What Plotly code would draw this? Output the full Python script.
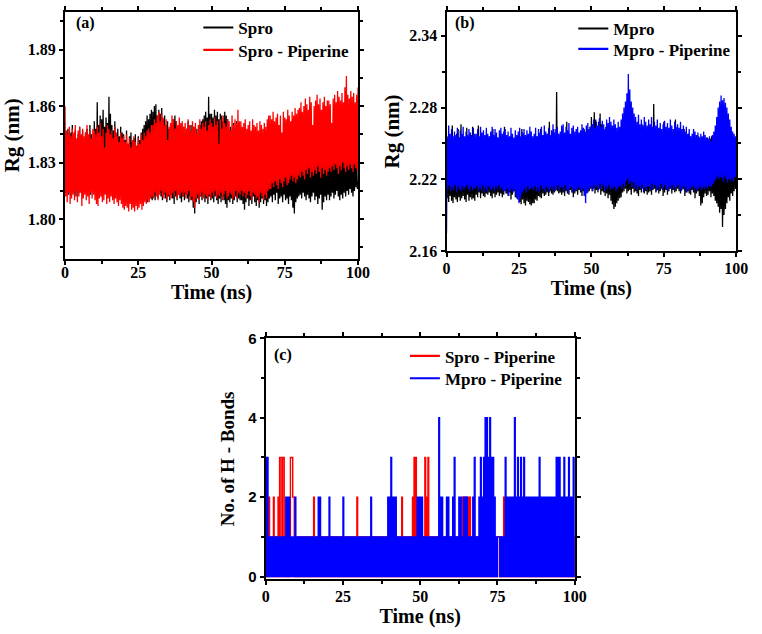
import plotly.graph_objects as go

# ---------------- data ----------------
# Panel (a): Rg, in pm above 1.800 nm, one row per 10 ns (0.25 ns step)
rg_time_step_ns = 0.25
SPRO_BASE_NM = 1.800
spro_rg_pm_rows = [
    [45,15,42,17,48,13,44,16,46,18,50,14,43,15,47,12,41,16,45,14,49,17,44,15,47,13,42,18,46,14,48,16,44,15,50,13,45,17,43,14],
    [52,14,48,12,62,16,50,13,55,15,53,12,58,18,49,14,54,13,51,16,65,12,56,15,50,14,47,11,52,16,45,13,48,12,44,15,49,14,46,12],
    [45,13,42,11,47,15,40,12,44,14,46,12,41,11,43,14,45,13,39,10,44,12,42,15,46,11,48,13,50,10,52,12,55,9,53,12,56,11,58,10],
    [57,12,60,10,61,13,55,11,58,14,56,12,59,10,53,13,55,11,50,9,52,12,48,10,47,13,50,11,53,8,55,12,52,10,49,13,47,11,50,9],
    [46,12,49,10,44,13,48,11,52,9,47,12,50,10,45,6,49,3,46,9,48,11,44,8,50,12,52,10,53,13,55,9,57,11,54,8,65,12,56,10],
    [56,11,54,9,58,12,55,10,57,8,53,11,56,9,55,12,52,10,57,8,55,6,53,10,47,9,49,11,46,8,51,10,48,12,52,9,47,11,50,10],
    [46,10,44,8,48,5,42,9,45,11,47,7,43,10,46,8,41,12,45,9,44,7,40,10,46,6,43,9,45,11,42,8,40,10,44,7,38,9,35,11],
    [34,12,32,9,36,13,33,10,30,14,35,8,33,11,37,12,31,9,34,13,36,10,32,11,38,8,30,12,33,10,35,6,31,3,34,9,36,11,33,12],
    [33,13,36,11,32,14,35,12,37,10,34,13,38,11,33,9,35,12,31,14,36,10,34,12,32,8,35,11,33,13,30,5,34,9,36,12,33,10,35,13],
    [35,10,33,12,37,14,34,11,36,13,38,15,35,12,33,10,36,13,34,11,37,14,35,12,33,15,36,13,34,16,32,14,35,12,33,15,36,17,34,16],
    [20],
]
spro_pip_rg_pm_rows = [
    [60,12,47,9,45,14,49,8,44,11,48,13,46,10,50,15,43,9,47,12,49,14,45,7,48,11,44,13,46,10,50,12,45,8,47,14,43,11,48,13],
    [47,10,45,8,49,7,46,11,51,12,44,9,48,10,38,13,46,8,50,11,48,9,45,12,47,10,43,8,49,11,46,9,44,7,41,10,46,8,43,6],
    [44,5,41,7,45,6,40,4,43,8,38,5,42,6,44,4,41,7,39,5,43,6,40,8,45,5,42,7,46,9,44,8,47,10,48,9,46,11,50,12],
    [50,11,53,14,51,12,55,10,57,13,52,15,56,12,54,11,50,14,53,10,42,13,49,12,51,11,55,14,53,12,48,15,52,11,50,13,54,12,51,14],
    [52,12,49,14,51,11,48,13,53,15,50,10,47,12,52,9,49,6,51,11,46,13,50,10,53,12,48,14,51,11,49,13,52,12,47,10,50,13,53,11],
    [51,14,49,12,54,15,50,11,52,13,40,12,53,14,48,10,55,13,51,15,49,11,53,12,52,14,47,13,55,10,50,12,53,15,51,11,58,14,52,13],
    [52,15,49,12,51,14,53,11,48,13,50,15,52,12,47,10,53,14,50,13,49,11,51,12,47,9,52,14,50,12,48,10,51,13,49,11,53,15,55,16],
    [55,16,53,19,57,17,52,20,54,18,56,16,50,21,55,19,46,17,57,20,54,22,53,18,58,19,55,21,52,23,57,20,55,22,59,19,56,21,58,23],
    [59,22,62,25,57,23,60,21,64,26,61,24,58,27,65,22,62,25,50,23,60,26,63,24,66,28,61,25,64,22,58,27,62,24,65,26,60,23,63,25],
    [63,27,61,25,51,28,64,26,66,29,62,27,68,24,65,28,63,26,67,30,62,27,70,25,76,28,66,26,64,29,68,27,65,25,67,29,62,27,66,26],
    [70],
]
# Panel (b): Rg in pm above 2.200 nm
MPRO_BASE_NM = 2.200
mpro_rg_pm_rows = [
    [52,4,56,1,50,6,54,2,65,0,53,5,51,3,58,1,62,5,55,2,66,4,52,6,54,3,51,1,63,7,55,2,53,5,57,3,64,4,52,2],
    [53,7,50,5,65,9,54,4,51,8,56,6,52,5,55,8,50,7,54,9,56,6,51,4,62,8,53,5,50,7,55,9,52,6,54,8,51,5,56,7],
    [64,10,52,8,50,6,55,9,54,3,51,7,53,10,50,5,52,4,56,8,50,1,54,-1,62,3,52,0,53,-2,55,2,56,1,51,-1,51,-2,54,0],
    [54,0,50,3,56,2,52,6,55,5,62,4,52,8,55,6,50,7,53,9,58,6,68,10,54,8,52,7,62,9,55,11,93,10,58,8,54,9,52,7],
    [53,9,55,6,52,10,68,8,56,7,52,11,54,9,56,5,58,8,55,10,62,7,54,11,58,9,60,6,55,10,62,8,58,11,56,9,60,10,64,12],
    [72,10,66,12,76,8,70,11,64,9,68,12,75,7,66,10,62,9,58,6,64,8,60,4,56,7,58,2,62,-1,57,-5,55,-3,52,0,58,2,54,4],
    [56,5,52,9,62,10,58,12,45,8,58,10,55,11,60,7,56,12,70,9,58,10,55,8,56,6,60,11,58,9,66,12,56,8,62,10,55,7,58,9],
    [58,10,62,7,60,11,83,12,58,9,55,11,60,8,62,10,58,12,56,6,68,9,60,11,55,7,58,10,56,12,54,8,58,11,62,9,70,10,58,12],
    [55,10,58,8,56,11,52,12,62,6,55,9,54,10,58,8,56,7,52,11,55,9,58,4,52,8,54,10,56,6,52,-2,55,0,50,5,54,8,52,6],
    [55,7,52,10,54,5,56,8,50,6,54,2,52,0,48,-3,50,-8,46,-5,45,-20,40,-10,50,-5,46,0,44,5,48,2,52,8,50,6,48,10,52,12],
    [15],
]
mpro_pip_rg_pm_rows = [
    [-25,55,12,65,15,58,10,62,13,56,11,60,15,57,9,63,14,55,12,61,10,58,14,64,11,56,13,60,15,57,12,62,10,59,14,56,11,63,13,58],
    [12,58,14,62,10,56,13,64,11,59,15,61,9,57,13,63,10,58,14,56,12,60,11,64,13,57,10,62,14,59,12,55,15,61,11,63,13,58,10,60],
    [11,62,8,57,12,60,6,56,10,63,12,58,9,55,11,61,6,57,3,60,0,63,4,56,8,59,10,62,12,57,9,61,14,58,11,64,12,60,13,56],
    [11,58,14,63,10,56,13,62,9,59,15,64,11,57,12,65,10,60,14,58,12,63,9,57,13,61,11,66,14,59,10,62,12,64,15,58,11,60,13,65],
    [13,66,10,59,15,64,11,61,8,67,12,58,14,63,9,65,12,60,10,62,11,64,13,59,12,61,10,66,12,63,6,60,0,65,8,67,11,62,13,64],
    [13,66,10,70,15,63,12,68,14,65,11,71,16,64,12,69,15,66,10,62,14,70,12,67,15,72,11,68,13,65,12,70,14,66,10,63,12,68,14,64],
    [14,70,12,75,16,80,14,85,18,92,20,108,16,95,18,85,13,80,17,75,12,72,15,68,11,74,14,66,12,70,15,65,9,72,13,68,11,65,14,70],
    [14,66,11,72,16,64,12,68,15,65,10,70,14,63,12,67,16,62,11,66,13,69,15,64,12,67,10,63,14,70,12,65,15,62,11,68,13,64,14,66],
    [15,63,12,68,10,62,14,65,11,60,13,64,9,58,12,62,10,56,13,58,14,62,11,60,13,57,10,59,12,55,14,58,11,56,13,60,12,57,14,55],
    [12,54,15,56,13,52,14,57,16,60,18,65,20,72,22,80,20,85,22,90,21,86,18,88,22,84,20,80,17,75,20,70,19,64,21,60,18,58,22,56],
    [20],
]

# Panel (c): number of H-bonds, one digit per 0.25 ns, one string per 10 ns
hb_time_step_ns = 0.25
spro_pip_hb_rows = [
    "1010201010201010203310331010101033322010",
    "1010101010101010101010201010101010101010",
    "1010101010101010101010101010101010101020",
    "1010101010101010101010101010101010101010",
    "1010101010101010201010101010102030301010",
    "1010103020301010101010101010101010101010",
    "1010101010101020202020202010101010101010",
    "1010101010101010101011101010201010101010",
    "1010101010101010101010101010101010101010",
    "1010101010101010101010101010101010101010",
    "1",
]
mpro_pip_hb_rows = [
    "3030101010101010101010101020202010101020",
    "1010101010101010101010101010202010101010",
    "1020101010101010101020101010101010101010",
    "1010101010101010201010101010101010101020",
    "2030202020101010101010101010101010102020",
    "2020101010101010101010104020201010202010",
    "1020301010202010202020101010203010102030",
    "2030404030403030201011101010103020202020",
    "2040203020302030202020202020202020302020",
    "2020202020202020303030202030202030202030",
    "3",
]

tick_time = [0, 25, 50, 75, 100]

# ---------------- build series ----------------
def flat(rows):
    out = []
    for r in rows:
        out.extend(r)
    return out

spro_rg = [SPRO_BASE_NM + v / 1000 for v in flat(spro_rg_pm_rows)]
spro_pip_rg = [SPRO_BASE_NM + v / 1000 for v in flat(spro_pip_rg_pm_rows)]
mpro_rg = [MPRO_BASE_NM + v / 1000 for v in flat(mpro_rg_pm_rows)]
mpro_pip_rg = [MPRO_BASE_NM + v / 1000 for v in flat(mpro_pip_rg_pm_rows)]

def times(n, step):
    return [i * step for i in range(n)]

spro_pip_hb = [int(c) for c in "".join(spro_pip_hb_rows)]
mpro_pip_hb = [int(c) for c in "".join(mpro_pip_hb_rows)]

# ---------------- figure ----------------
W, H = 762, 634
SERIF = "Liberation Serif"
SANS = "Liberation Sans"
BLACK, RED, BLUE = "#000000", "#ff0000", "#0000ff"

def fx(p):
    return p / W

def fy(p):
    return 1 - p / H

fig = go.Figure()

def data_trace(y, step, color, width, xa, ya, shape="linear"):
    fig.add_trace(go.Scatter(x=times(len(y), step), y=y, mode="lines", showlegend=False,
                             line=dict(color=color, width=width, shape=shape),
                             xaxis=xa, yaxis=ya, hoverinfo="skip"))

def legend_entry(name, color, leg, xa, ya):
    fig.add_trace(go.Scatter(x=[None], y=[None], mode="lines", name=name,
                             line=dict(color=color, width=2.2), legend=leg,
                             xaxis=xa, yaxis=ya))

data_trace(spro_rg, rg_time_step_ns, BLACK, 1.3, "x", "y")
data_trace(spro_pip_rg, rg_time_step_ns, RED, 1.3, "x", "y")
data_trace(mpro_rg, rg_time_step_ns, BLACK, 1.3, "x2", "y2")
data_trace(mpro_pip_rg, rg_time_step_ns, BLUE, 1.3, "x2", "y2")
data_trace(spro_pip_hb, hb_time_step_ns, RED, 1.4, "x3", "y3", "hv")
data_trace(mpro_pip_hb, hb_time_step_ns, BLUE, 1.4, "x3", "y3", "hv")

legend_entry("Spro", BLACK, "legend", "x", "y")
legend_entry("Spro - Piperine", RED, "legend4", "x", "y")
legend_entry("Mpro", BLACK, "legend2", "x2", "y2")
legend_entry("Mpro - Piperine", BLUE, "legend5", "x2", "y2")
legend_entry("Spro - Piperine", RED, "legend3", "x3", "y3")
legend_entry("Mpro - Piperine", BLUE, "legend6", "x3", "y3")

tick_font = dict(family=SERIF, size=16, color="black", weight="bold")
title_font = dict(family=SERIF, size=20, color="black", weight="bold")

def xax(dom, anchor, lab_shift):
    return dict(domain=dom, anchor=anchor, range=[0, 100], tickmode="array",
                tickvals=tick_time, ticktext=[str(t) for t in tick_time],
                ticks="outside", ticklen=4, tickwidth=1.5, tickcolor="black",
                ticklabelstandoff=lab_shift,
                minor=dict(ticks="outside", ticklen=3, tickwidth=1.5, dtick=12.5, tick0=0,
                           tickcolor="black"),
                showline=True, linewidth=2, linecolor="black", mirror="ticks",
                showgrid=False, zeroline=False, tickfont=tick_font,
                title=dict(text="Time (ns)", font=title_font, standoff=0))

def yax(dom, anchor, rng, t0, dt, fmt, tfont, title, tsize, stand):
    return dict(domain=dom, anchor=anchor, range=rng, tick0=t0, dtick=dt, tickformat=fmt,
                ticks="outside", ticklen=4, tickwidth=1.5, tickcolor="black",
                minor=dict(ticks="outside", ticklen=3, tickwidth=1.5, dtick=dt / 2, tick0=t0,
                           tickcolor="black"),
                showline=True, linewidth=2, linecolor="black", mirror="ticks",
                showgrid=False, zeroline=False, tickfont=tfont,
                title=dict(text=title, font=dict(family=SERIF, size=tsize, color="black",
                                                 weight="bold"), standoff=stand))

leg_font = dict(family=SERIF, size=17, color="black", weight="bold")

def legend(x, y):
    return dict(x=x, y=y, xanchor="left", yanchor="top", font=leg_font,
                bgcolor="rgba(0,0,0,0)", tracegroupgap=0)

label_font = dict(family=SERIF, size=16, color="black", weight="bold")

fig.update_layout(
    width=W, height=H, paper_bgcolor="white", plot_bgcolor="white",
    margin=dict(l=0, r=0, t=0, b=0),
    showlegend=True,
    xaxis=xax([fx(62.3), fx(361.7)], "y", -6),
    yaxis=yax([fy(257), fy(3)], "x", [1.779, 1.910], 1.80, 0.03, ".2f", tick_font,
              "Rg (nm)", 21, 4),
    xaxis2=xax([fx(452), fx(748)], "y2", -2),
    yaxis2=yax([fy(249), fy(3)], "x2", [2.16, 2.36], 2.16, 0.06, ".2f", tick_font,
               "Rg (nm)", 21, 4),
    xaxis3=xax([fx(267.3), fx(583)], "y3", -3),
    yaxis3=yax([fy(587), fy(339)], "x3", [-0.07, 6], 0, 2, "d",
               dict(family=SANS, size=15, color="black", weight="bold"),
               "No. of H - Bonds", 19, 9),
    legend=legend(fx(198.5), fy(1)),
    legend4=legend(fx(198.5), fy(24)),
    legend2=legend(fx(581.5), fy(2)),
    legend5=legend(fx(581.5), fy(23)),
    legend3=legend(fx(409.5), fy(339)),
    legend6=legend(fx(409.5), fy(362)),
    annotations=[
        dict(text="(a)", x=fx(83), y=fy(14), xref="paper", yref="paper", showarrow=False,
             xanchor="center", yanchor="middle", font=label_font),
        dict(text="(b)", x=fx(471), y=fy(14), xref="paper", yref="paper", showarrow=False,
             xanchor="center", yanchor="middle", font=label_font),
        dict(text="(c)", x=fx(285), y=fy(356), xref="paper", yref="paper", showarrow=False,
             xanchor="center", yanchor="middle", font=label_font),
    ],
)

fig.write_html("out.html", config={"displayModeBar": False},
               post_script="document.body.style.margin='0';document.body.style.overflow='hidden';")
